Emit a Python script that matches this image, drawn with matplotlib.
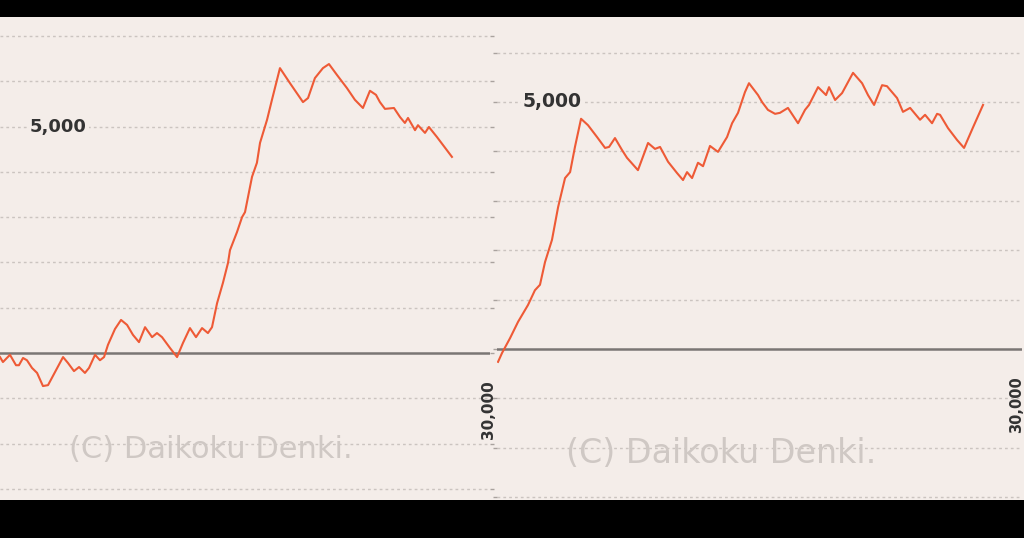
import matplotlib
matplotlib.use("Agg")
import matplotlib.pyplot as plt
from matplotlib.patches import Rectangle

# ---- data: left chart (games, difference in medals) ----
left_games = [0, 180, 610, 980, 1160, 1410, 1650, 1960, 2270, 2630, 2940, 3370, 3860, 4160,
              4530, 4840, 5200, 5450, 5820, 6120, 6370, 6610, 7040, 7410, 7780, 8140, 8510,
              8880, 9310, 9610, 9920, 10410, 10840, 11200, 11630, 12000, 12370, 12730, 12980,
              13290, 13650, 13960, 14080, 14510, 14820, 15000, 15430, 15730, 15920, 16350,
              16650, 17140, 17750, 18550, 18860, 19280, 19770, 20140, 20630, 21240, 21730,
              22220, 22650, 23020, 23260, 23570, 24120, 24490, 24790, 24980, 25410, 25590,
              26020, 26260, 26750, 27670]
left_values = [-90, -200, -40, -270, -270, -110, -160, -330, -440, -730, -710, -420, -90, -220,
               -400, -310, -440, -330, -40, -160, -90, 180, 530, 730, 620, 400, 240,
               570, 350, 440, 350, 110, -90, 220, 550, 350, 550, 440, 570,
               1100, 1550, 1990, 2270, 2670, 3000, 3110, 3890, 4200, 4640, 5150,
               5590, 6290, 5960, 5540, 5630, 6070, 6290, 6380, 6140, 5850, 5590,
               5410, 5790, 5700, 5540, 5390, 5410, 5210, 5080, 5190, 4920, 5030,
               4860, 4990, 4770, 4330]

# ---- data: right chart ----
right_games = [60, 290, 750, 1210, 1780, 2180, 2470, 2760, 3160, 3510, 3910, 4200, 4480, 4830,
               5230, 5750, 6210, 6440, 6780, 7180, 7470, 8100, 8680, 9080, 9370, 9830, 10350,
               10690, 10920, 11210, 11550, 11840, 12240, 12700, 13220, 13510, 13850, 14250,
               14480, 15000, 15230, 15570, 15980, 16260, 16720, 17300, 17700, 17930, 18450,
               18910, 19080, 19430, 19830, 20460, 20980, 21320, 21670, 22130, 22410, 22990,
               23330, 23740, 24310, 24600, 25000, 25290, 25460, 25920, 26440, 26840, 27360, 27930]
right_values = [-260, -80, 220, 550, 890, 1190, 1300, 1760, 2210, 2870, 3460, 3580, 4090, 4660,
                4530, 4290, 4070, 4090, 4270, 4030, 3870, 3620, 4170, 4050, 4090, 3790, 3560,
                3420, 3580, 3460, 3770, 3700, 4110, 3990, 4290, 4570, 4780, 5200,
                5380, 5140, 5000, 4840, 4760, 4780, 4880, 4570, 4840, 4940, 5300,
                5140, 5300, 5040, 5180, 5590, 5380, 5140, 4940, 5340, 5320, 5080,
                4800, 4880, 4640, 4740, 4570, 4760, 4740, 4470, 4230, 4070, 4490, 4940]

grid_levels = [-3000, -2000, -1000, 1000, 2000, 3000, 4000, 5000, 6000, 7000]
label_level = 5000
x_end = 30000
label_top = "5,000"
label_end = "30,000"
watermark = "(C) Daikoku Denki."

BG = "#f4ede9"
LINE = "#ee5a36"
GRID = "#cbc4c0"
W, H = 1024, 538

fig = plt.figure(figsize=(W / 100, H / 100), dpi=100, facecolor="black")
bg_rect = Rectangle((0, (H - 500) / H), 1, 483 / H, transform=fig.transFigure,
                    facecolor=BG, edgecolor="none", zorder=-10)
fig.add_artist(bg_rect)


def make_panel(rect, xlim, ylim, games, values, tick_side, lbl_x, end_xy, wm_xy,
               top_fs, end_fs, wm_fs):
    ax = fig.add_axes(rect)
    ax.set_zorder(1)
    ax.set_facecolor(BG)
    for s in ax.spines.values():
        s.set_visible(False)
    ax.set_xticks([])
    ax.set_yticks(grid_levels + [0])
    ax.tick_params(axis="y", length=3, width=1, color="#a9a29e", direction="out",
                   labelleft=False, labelright=False,
                   left=(tick_side == "left"), right=(tick_side == "right"))
    for lv in grid_levels:
        ax.axhline(lv, color=GRID, lw=1.0, ls=(0, (2, 2.2)), zorder=1)
    ax.axhline(0, color="#7a7674", lw=1.8, zorder=2)
    ax.plot(games, values, color=LINE, lw=1.5, zorder=4, solid_joinstyle="round")
    ax.text(lbl_x, label_level, label_top, ha="left", va="center", fontsize=top_fs,
            fontweight="bold", color="#333333", zorder=3,
            bbox=dict(facecolor=BG, edgecolor="none", pad=1.5))
    ax.text(end_xy[0], end_xy[1], label_end, ha="center", va="center", rotation=90,
            fontsize=end_fs, fontweight="bold", color="#333333", zorder=3, clip_on=False)
    ax.text(wm_xy[0], wm_xy[1], watermark, ha="center", va="center", fontsize=wm_fs,
            color="#cfc8c4", zorder=3)
    ax.set_xlim(*xlim)
    ax.set_ylim(*ylim)
    return ax


bottom = (H - 500) / H
height = 483 / H

# left panel: pixel x 0..490 -> 0..30000 ; y zero at 353, 45.3 px per 1000
make_panel([0, bottom, 490 / W, height], (0, x_end), (-3246, 7419),
           left_games, left_values, "right", 1840, (29880, -1240), (12920, -2120),
           13, 11, 22)

# right panel: pixel x 497..1022 ; zero at 349, 49.4 px per 1000
make_panel([497 / W, bottom, 525 / W, height], (0, 30170), (-3056, 6720),
           right_games, right_values, "left", 1490, (29880, -1130), (12870, -2105),
           13.5, 10.5, 24)

fig.savefig("out.png", dpi=100, facecolor="black")
